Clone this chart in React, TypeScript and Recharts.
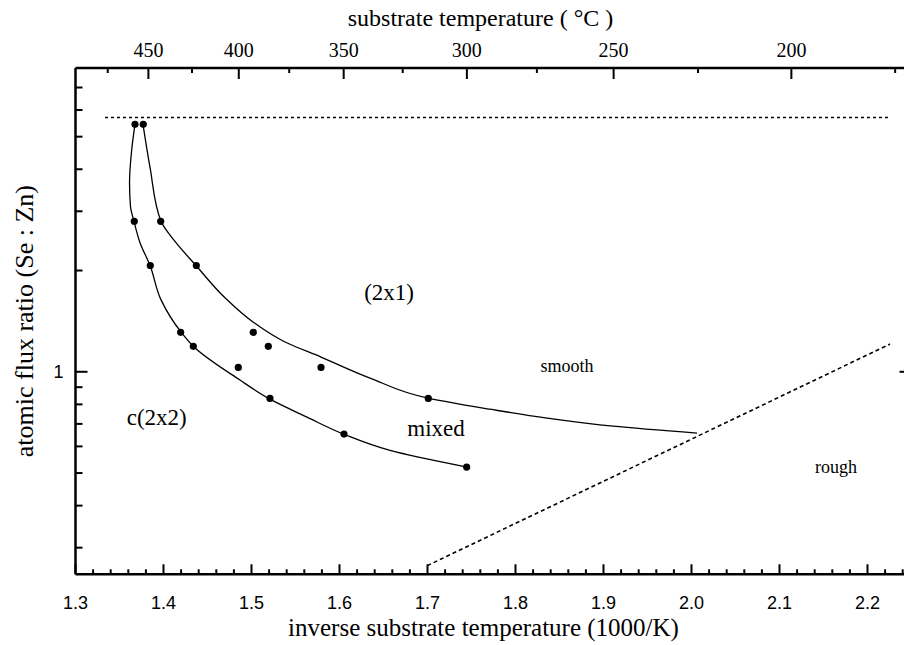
import React from 'react';
import { ComposedChart, Line, Scatter, XAxis, YAxis } from 'recharts';

const SERIF = '"Liberation Serif", "Times New Roman", serif';
const SANS = '"Liberation Sans", Arial, sans-serif';

// Measured phase-boundary points: inverse substrate temperature (1000/K) vs Se:Zn flux ratio
const measuredPoints = [
  { x: 1.3676, y: 5.44 }, { x: 1.377, y: 5.44 },
  { x: 1.3668, y: 2.8 }, { x: 1.3968, y: 2.8 },
  { x: 1.385, y: 2.07 }, { x: 1.4373, y: 2.07 },
  { x: 1.4195, y: 1.31 }, { x: 1.502, y: 1.31 },
  { x: 1.4339, y: 1.19 }, { x: 1.5191, y: 1.19 },
  { x: 1.485, y: 1.03 }, { x: 1.579, y: 1.03 },
  { x: 1.521, y: 0.833 }, { x: 1.7009, y: 0.833 },
  { x: 1.6051, y: 0.653 },
  { x: 1.7445, y: 0.521 },
];

// (2x1) / mixed boundary
const upperBoundary = [
  { x: 1.3767, y: 5.44 }, { x: 1.3847, y: 4.05 }, { x: 1.3972, y: 2.8 },
  { x: 1.4142, y: 2.42 }, { x: 1.4369, y: 2.07 }, { x: 1.4699, y: 1.659 },
  { x: 1.5017, y: 1.406 }, { x: 1.5381, y: 1.226 }, { x: 1.579, y: 1.106 },
  { x: 1.6347, y: 0.958 }, { x: 1.7006, y: 0.835 }, { x: 1.771, y: 0.774 },
  { x: 1.8358, y: 0.728 }, { x: 1.9108, y: 0.689 }, { x: 2.0063, y: 0.657 },
];

// c(2x2) / mixed boundary
const lowerBoundary = [
  { x: 1.3676, y: 5.44 }, { x: 1.3639, y: 4.58 }, { x: 1.3614, y: 3.65 },
  { x: 1.3625, y: 3.1 }, { x: 1.3665, y: 2.8 }, { x: 1.3733, y: 2.42 },
  { x: 1.3847, y: 2.07 }, { x: 1.3972, y: 1.636 }, { x: 1.4199, y: 1.313 },
  { x: 1.4335, y: 1.193 }, { x: 1.4869, y: 0.945 }, { x: 1.521, y: 0.829 },
  { x: 1.5631, y: 0.733 }, { x: 1.6051, y: 0.652 }, { x: 1.6574, y: 0.584 },
  { x: 1.7449, y: 0.521 },
];

// upper flux limit (dotted) and smooth/rough transition (dashed)
const fluxLimit = [{ x: 1.3335, y: 5.7 }, { x: 2.2233, y: 5.7 }];
const roughnessBoundary = [{ x: 1.6998, y: 0.2653 }, { x: 2.2256, y: 1.209 }];

// Region names
const phaseLabels = [
  { text: '(2x1)', x: 1.6563, y: 1.728 },
  { text: 'c(2x2)', x: 1.3923, y: 0.734 },
  { text: 'mixed', x: 1.7097, y: 0.68 },
];
const surfaceLabels = [
  { text: 'smooth', x: 1.8585, y: 1.04 },
  { text: 'rough', x: 2.1642, y: 0.521 },
];

// Axes
const xDomain = [1.3, 2.25];
const yDomain = [0.25, 8];
const xMajorTicks = [1.3, 1.4, 1.5, 1.6, 1.7, 1.8, 1.9, 2.0, 2.1, 2.2];
const xTicks: number[] = [];
for (let i = 0; i <= 47; i++) xTicks.push(Math.round((1.3 + i * 0.02) * 100) / 100);
const yMajorTicks = [1];
const yTicks = [0.3, 0.4, 0.5, 0.6, 0.7, 0.8, 0.9, 1, 2, 3, 4, 5, 6, 7];
const tempMajorC = [450, 400, 350, 300, 250, 200];
const tempMinorC = [475, 425, 375, 325, 275, 225, 175];
const toInverse = (c: number) => 1000 / (c + 273.15);
const toCelsius = (v: number) => Math.round(1000 / v - 273.15);
const topTicks = [...tempMinorC, ...tempMajorC].map((c) => toInverse(c)).sort((a, b) => a - b);

const isXMajor = (v: number) => xMajorTicks.some((m) => Math.abs(m - v) < 1e-6);
const isTempMajor = (v: number) => tempMajorC.includes(toCelsius(v));

const AXIS = { stroke: '#000', strokeWidth: 2.5 };

const BottomTick = (p: any) => {
  const major = isXMajor(p.payload.value);
  return (
    <g>
      <line x1={p.x} x2={p.x} y1={p.y} y2={p.y - (major ? 10 : 5)} stroke="#000" strokeWidth={2} />
      {major && (
        <text x={p.x} y={p.y + 35} textAnchor="middle" fontFamily={SANS} fontSize={18} fill="#000">
          {p.payload.value.toFixed(1)}
        </text>
      )}
    </g>
  );
};

const TopTick = (p: any) => {
  const major = isTempMajor(p.payload.value);
  return (
    <g>
      <line x1={p.x} x2={p.x} y1={p.y} y2={p.y + (major ? 11 : 5)} stroke="#000" strokeWidth={2} />
      {major && (
        <text x={p.x} y={p.y - 11} textAnchor="middle" fontFamily={SERIF} fontSize={20} fill="#000">
          {toCelsius(p.payload.value)}
        </text>
      )}
    </g>
  );
};

const LeftTick = (p: any) => {
  const major = yMajorTicks.includes(p.payload.value);
  return (
    <g>
      <line x1={p.x} x2={p.x + (major ? 12 : 7)} y1={p.y} y2={p.y} stroke="#000" strokeWidth={2} />
      {major && (
        <text x={p.x - 12} y={p.y} dy="0.36em" textAnchor="end" fontFamily={SANS} fontSize={18} fill="#000">
          {p.payload.value}
        </text>
      )}
    </g>
  );
};

const RightTick = (p: any) => {
  const major = yMajorTicks.includes(p.payload.value);
  return <line x1={p.x} x2={p.x - (major ? 12 : 7)} y1={p.y} y2={p.y} stroke="#000" strokeWidth={2} />;
};

const Dot = (p: any) => <circle cx={p.cx} cy={p.cy} r={3.6} fill="#000" />;

const makeLabel = (size: number) => (p: any) => (
  <text x={p.cx} y={p.cy} dy="0.35em" textAnchor="middle" fontFamily={SERIF} fontSize={size} fill="#000">
    {p.payload.text}
  </text>
);

const bottomTitle = (p: any) => {
  const vb = p.viewBox;
  return (
    <text x={vb.x + vb.width / 2 - 10} y={vb.y + 62} textAnchor="middle" fontFamily={SERIF} fontSize={25} fill="#000">
      inverse substrate temperature (1000/K)
    </text>
  );
};

const topTitle = (p: any) => {
  const vb = p.viewBox;
  return (
    <text x={vb.x + vb.width / 2 - 13} y={vb.y + 26} textAnchor="middle" fontFamily={SERIF} fontSize={24} fill="#000">
      substrate temperature ( °C )
    </text>
  );
};

const leftTitle = (p: any) => {
  const vb = p.viewBox;
  const cx = vb.x + 33;
  const cy = vb.y + vb.height / 2;
  return (
    <text x={cx} y={cy} transform={`rotate(-90, ${cx}, ${cy})`} textAnchor="middle" fontFamily={SERIF} fontSize={26} fill="#000">
      atomic flux ratio (Se : Zn)
    </text>
  );
};

export default function App() {
  return (
    <div style={{ position: 'absolute', left: 0, top: 0, width: 904, height: 645, overflow: 'hidden', background: '#fff' }}>
      <ComposedChart width={920} height={645} margin={{ top: 0, right: 0, bottom: 0, left: 0 }}>
        <XAxis
          xAxisId="bottom"
          dataKey="x"
          type="number"
          domain={xDomain}
          allowDataOverflow
          ticks={xTicks}
          interval={0}
          tick={BottomTick}
          tickLine={false}
          tickSize={0}
          tickMargin={0}
          axisLine={AXIS}
          height={70.7}
          label={bottomTitle}
        />
        <XAxis
          xAxisId="top"
          dataKey="x"
          orientation="top"
          type="number"
          domain={xDomain}
          allowDataOverflow
          ticks={topTicks}
          interval={0}
          tick={TopTick}
          tickLine={false}
          tickSize={0}
          tickMargin={0}
          axisLine={AXIS}
          height={68}
          label={topTitle}
        />
        <YAxis
          yAxisId="left"
          dataKey="y"
          type="number"
          scale="log"
          domain={yDomain}
          allowDataOverflow
          ticks={yTicks}
          interval={0}
          tick={LeftTick}
          tickLine={false}
          tickSize={0}
          tickMargin={0}
          axisLine={AXIS}
          width={75.5}
          label={leftTitle}
        />
        <YAxis
          yAxisId="right"
          orientation="right"
          type="number"
          scale="log"
          domain={yDomain}
          allowDataOverflow
          ticks={yTicks}
          interval={0}
          tick={RightTick}
          tickLine={false}
          tickSize={0}
          tickMargin={0}
          axisLine={AXIS}
          width={8.5}
        />
        <Line xAxisId="top" yAxisId="left" data={fluxLimit} dataKey="y" type="linear" stroke="#000"
          strokeWidth={1.6} strokeDasharray="3 3" dot={false} activeDot={false} isAnimationActive={false} />
        <Line xAxisId="bottom" yAxisId="left" data={roughnessBoundary} dataKey="y" type="linear" stroke="#000"
          strokeWidth={1.6} strokeDasharray="4 3" dot={false} activeDot={false} isAnimationActive={false} />
        <Line xAxisId="bottom" yAxisId="left" data={upperBoundary} dataKey="y" type="monotoneY" stroke="#000"
          strokeWidth={1.3} dot={false} activeDot={false} isAnimationActive={false} />
        <Line xAxisId="bottom" yAxisId="left" data={lowerBoundary} dataKey="y" type="monotoneY" stroke="#000"
          strokeWidth={1.3} dot={false} activeDot={false} isAnimationActive={false} />
        <Scatter xAxisId="bottom" yAxisId="left" data={measuredPoints} shape={Dot} isAnimationActive={false} />
        <Scatter xAxisId="bottom" yAxisId="left" data={phaseLabels} shape={makeLabel(23)} isAnimationActive={false} />
        <Scatter xAxisId="bottom" yAxisId="left" data={surfaceLabels} shape={makeLabel(18)} isAnimationActive={false} />
      </ComposedChart>
    </div>
  );
}
